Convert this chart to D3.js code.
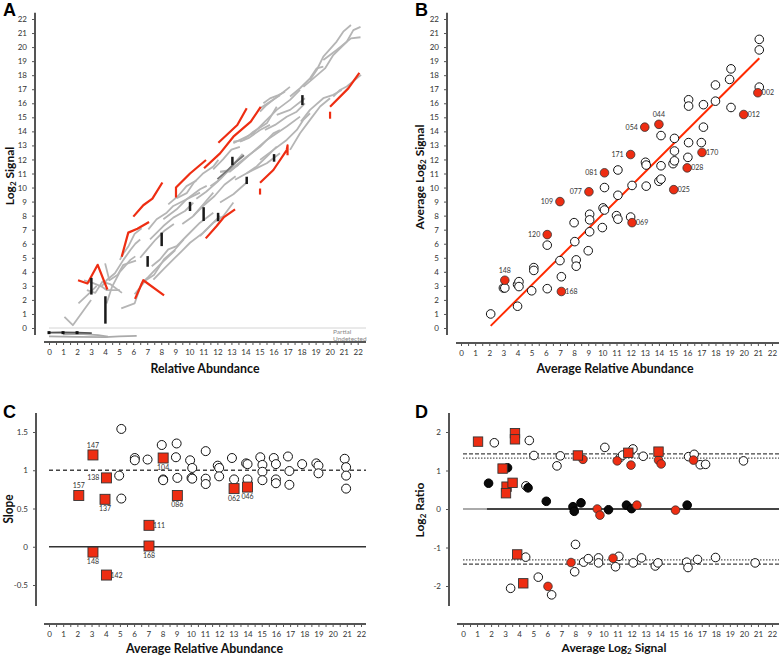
<!DOCTYPE html>
<html><head><meta charset="utf-8">
<script src="https://cdn.jsdelivr.net/npm/d3@7"></script>
<style>body{margin:0;background:#fff}svg{display:block}</style>
</head><body><svg id="c" width="779" height="656"></svg>
<script>
// ---------- Panel A data ----------
const greyTraces = [
 [[1.1,0.8],[1.7,0.2],[3.0,2.0]],
 [[2.1,1.75],[2.9,2.5],[3.4,3.0]],
 [[2.5,3.4],[3.15,3.2],[3.75,2.95],[4.1,2.7],[5.05,2.7]],
 [[2.7,2.7],[3.3,2.5],[3.8,3.3],[4.4,3.1],[5.2,2.5]],
 [[4.1,1.75],[4.5,2.95],[5.05,4.0],[5.8,4.85],[6.15,5.1]],
 [[3.75,2.95],[4.1,3.4],[4.7,3.9],[5.3,4.85],[5.8,5.55],[6.15,6.0],[6.5,6.3]],
 [[5.15,1.4],[6.1,1.75],[6.6,3.2],[7.1,3.65],[8.0,4.6],[9.0,5.55]],
 [[6.1,2.4],[6.9,3.4],[7.5,3.8],[8.2,4.9],[8.9,5.5],[9.6,6.3]],
 [[5.05,4.85],[5.3,5.3],[5.65,5.8],[6.1,6.7],[6.6,7.1]],
 [[4.0,4.6],[4.3,3.4],[4.9,3.8],[5.3,4.5],[6.2,4.8]],
 [[6.5,5.0],[7.0,5.6],[7.6,6.3],[8.2,6.9],[8.9,7.4]],
 [[7.08,7.02],[7.67,7.74],[8.39,8.21],[8.86,8.69],[9.81,9.17],[10.76,9.64]],
 [[7.2,6.31],[8.15,7.26],[8.86,7.86],[9.69,8.33],[10.29,8.93]],
 [[8.15,7.74],[9.1,8.45],[9.81,9.17],[10.76,9.88],[11.24,10.12]],
 [[7.32,4.4],[7.91,4.88],[8.5,5.6],[9.1,5.83],[9.81,6.55],[10.76,7.5],[11.71,8.21]],
 [[7.44,3.45],[8.15,4.17],[8.86,4.88],[9.46,5.48],[10.05,6.07],[11.0,6.79],[12.19,7.98]],
 [[10.76,6.55],[11.71,7.5],[12.43,7.98],[13.14,8.93]],
 [[12.19,8.93],[13.14,9.52],[14.09,10.36]],
 [[10.29,7.98],[11.0,8.81],[11.71,9.64]],
 [[9.5,7.4],[10.2,7.9],[11.0,8.7],[11.8,9.4],[12.5,10.2],[13.3,10.8]],
 [[10.5,9.2],[11.2,9.7],[12.0,10.4],[12.8,11.2],[13.5,11.6]],
 [[11.5,10.1],[12.2,10.6],[13.0,11.5],[13.8,12.4]],
 [[8.5,8.8],[9.2,9.4],[9.8,10.1],[10.5,10.5]],
 [[11.7,11.3],[12.4,12.0],[13.0,12.7],[13.6,12.9]],
 [[9.1,9.24],[9.81,9.6],[10.29,10.31],[11.0,11.02],[11.71,11.5],[12.07,11.97]],
 [[12.19,11.14],[12.9,11.14],[13.61,11.73],[14.56,12.56],[15.52,13.39],[16.23,13.87],[16.94,14.34],[17.89,15.05]],
 [[13.14,13.16],[14.09,13.63],[14.56,13.87],[15.28,14.58],[16.23,15.53],[17.18,16.24],[17.89,16.95]],
 [[17.18,16.48],[17.89,17.07],[18.6,17.78],[19.08,18.49],[19.55,18.61]],
 [[18.6,17.66],[19.08,18.37],[19.55,19.32],[20.5,20.39],[20.97,21.1],[21.52,21.57]],
 [[18.13,17.17],[18.84,17.77],[19.67,18.48],[20.26,19.43],[21.22,20.38],[21.69,21.21],[22.2,21.44]],
 [[19.55,19.08],[20.5,19.79],[21.52,20.62],[22.2,20.7]],
 [[16.23,15.17],[17.18,15.53],[18.24,16.36]],
 [[17.95,14.7],[18.6,15.53],[19.55,16.36],[20.26,16.6],[20.86,16.95]],
 [[17.18,12.68],[17.89,13.87],[18.6,14.82],[19.32,15.77],[20.03,16.36]],
 [[20.26,16.47],[20.74,16.95],[21.22,17.19],[22.24,18.02]],
 [[15.04,11.97],[15.99,12.68],[16.94,13.39],[17.66,14.1],[18.13,14.82],[18.6,15.29]],
 [[14.09,11.02],[14.8,11.38],[15.52,11.73],[15.99,12.09],[16.46,12.44]],
 [[13.26,10.55],[14.09,11.02],[14.8,11.5],[15.52,12.21],[16.23,12.92]],
 [[15.04,15.4],[15.51,15.88],[16.11,16.35],[16.58,16.7],[17.17,17.17]],
 [[15.28,16.0],[15.75,16.35],[16.35,16.58],[16.82,16.82]],
 [[13.61,13.27],[14.21,13.51],[15.04,14.1],[15.75,14.46]],
 [[15.39,14.1],[16.11,14.46],[16.94,15.04],[17.65,15.4],[18.24,15.99]],
 [[12.19,11.12],[12.9,11.25],[14.09,12.19],[15.04,12.9],[15.99,13.86],[16.46,14.09]],
 [[13.14,13.26],[13.85,13.38],[14.56,13.97],[15.52,14.57],[16.23,15.75]],
 [[15.04,15.64],[16.46,16.58]]
];
const darkTraces = [
 [[12.0,10.6],[12.7,11.2],[13.3,11.8],[13.9,12.3]]
];
const redTraces = [
 [[2.07,3.4],[2.74,3.17],[3.47,4.5],[4.16,2.74]],
 [[6.13,2.07],[6.72,3.4],[8.2,2.33]],
 [[5.18,5.07],[5.65,6.79],[6.3,7.07],[7.13,7.55]],
 [[6.01,7.93],[6.72,8.74],[7.37,9.21],[8.08,10.36]],
 [[11.17,6.38],[11.95,7.26],[12.47,7.9],[13.26,8.45]],
 [[9.05,9.3],[9.05,10.0],[10.05,11.0],[11.19,11.96]],
 [[12.07,13.19],[13.42,14.45],[14.09,15.64]],
 [[11.05,11.37],[12.19,12.43],[13.14,13.62],[14.38,14.69],[15.09,15.75]],
 [[15.04,10.34],[15.99,11.25],[16.94,12.67],[17.0,13.0],[17.0,12.3]],
 [[15.04,9.93],[15.04,9.5]],
 [[20.03,15.75],[21.33,17.06],[22.12,18.17]],
 [[20.03,15.4],[20.03,14.9]]
];
const barX  = [3.02,4.02,7.03,8.03,10.05,11.02,12.05,13.07,14.09,16.04,18.06];
const barLo = [2.38,0.31,4.36,5.83,8.33,7.62,7.6,11.6,10.25,11.84,15.87];
const barHi = [3.57,2.26,5.12,6.79,8.98,8.6,8.2,12.19,10.77,12.38,16.58];
const partialTrace = [[0,-0.33],[1,-0.31],[2,-0.33],[3.05,-0.36]];
const partialDots = [0,1,2];
const undetectedTrace = [[0,-0.6],[2,-0.63],[4,-0.65],[5,-0.6],[6.25,-0.56]];
const undetectedTrace2 = [[1,-0.45],[2.2,-0.42],[3.5,-0.5],[4.2,-0.62]];

// ---------- Panel B data ----------
const bOpenX = [2.1,3.0,3.1,4.0,4.1,4.1,4.0,5.0,5.15,5.15,6.1,6.1,7.0,7.1,8.0,8.05,8.15,8.15,9.0,9.1,9.1,9.1,10.0,10.05,10.15,10.15,11.0,11.1,11.1,12.0,12.1,13.1,14.0,14.15,11.1,13.05,13.1,14.15,15.0,15.1,15.1,15.1,14.15,16.05,16.1,16.1,16.1,17.0,17.15,17.15,18.0,18.0,19.0,19.1,19.1,21.1,21.1,21.1];
const bOpenY = [1.0,2.85,2.85,3.1,3.3,2.95,1.55,2.65,4.3,4.1,5.9,2.8,4.8,3.65,7.5,6.15,4.85,4.4,5.5,8.1,7.7,6.85,7.15,8.55,8.4,10.0,8.0,7.75,9.45,7.9,10.15,10.1,10.45,10.6,11.25,11.8,11.6,11.55,11.7,11.9,12.6,13.5,13.7,12.15,13.2,16.25,15.8,13.2,14.3,15.9,17.3,16.15,17.7,18.45,15.7,20.55,19.8,17.15];
const bRedX = [3.1,6.1,7.0,7.1,9.05,10.15,12.0,12.1,13.0,14.0,15.05,16.0,17.05,20.0,21.0];
const bRedY = [3.4,6.65,9.0,2.6,9.7,11.05,12.35,7.5,14.3,14.5,9.85,11.4,12.5,15.2,16.75];
const bRedLabel = ["148","120","109","168","077","081","171","069","054","044","025","028","170","012","002"];
const bRedPos = ["above","left","left","right","left","left","left","right","left","above","right","right","right","right","right"];
const bFitX = [2.1,21.1];
const bFitY = [0.15,19.2];

// ---------- Panel C data ----------
const cOpenX = [5.1,4.95,5.1,6.05,6.05,6.95,7.95,8.05,8.05,9.0,8.95,9.05,9.95,10.1,10.05,10.1,11.05,11.05,11.05,11.9,12.0,12.0,12.9,13.05,13.9,14.0,14.0,14.9,15.05,15.05,15.05,15.85,16.0,16.0,16.0,16.85,16.95,16.95,17.85,18.85,19.0,19.0,20.85,20.95,20.95,20.95];
const cOpenY = [1.54,0.93,0.63,1.16,1.13,1.14,1.33,0.88,0.87,1.35,1.17,0.9,1.13,1.03,0.9,0.89,1.25,0.89,0.82,1.06,1.03,0.92,1.16,0.88,1.09,1.08,0.88,1.17,1.07,0.98,0.87,1.16,1.08,0.88,0.83,1.18,0.99,0.81,1.08,1.09,1.06,0.96,1.15,1.04,0.93,0.76];
const cRedX = [2.1,3.1,4.05,3.95,3.1,4.05,7.05,7.05,8.05,9.05,13.05,14.0];
const cRedY = [0.67,1.2,0.9,0.62,-0.07,-0.37,0.28,0.01,1.16,0.67,0.76,0.78];
const cRedLabel = ["157","147","138","137","148","142","111","168","104","086","062","046"];
const cRedPos = ["above","above","left","below","below","right","right","below","below","below","below","below"];
const cRefSolid = 0, cRefDashed = 1;

// ---------- Panel D data ----------
const dSquareX = [1.07,3.7,3.7,2.82,3.1,3.53,3.06,8.18,11.77,13.92,3.86,4.29];
const dSquareY = [1.75,1.97,1.81,1.05,0.58,0.68,0.41,1.39,1.46,1.49,-1.18,-1.93];
const dRedX = [8.54,10.98,11.96,13.92,14.11,16.41,9.56,9.75,12.38,15.13,7.69,10.68,6.05];
const dRedY = [1.29,1.25,1.14,1.27,1.17,1.27,0,-0.16,0.1,-0.03,-1.39,-1.28,-2.01];
const dBlackX = [1.82,3.17,4.63,5.93,7.83,7.92,8.4,10.36,11.64,12.0,15.96];
const dBlackY = [0.67,1.07,0.55,0.2,0.06,-0.06,0.16,-0.02,0.1,0.01,0.1];
const dOpenX = [2.23,4.72,5.05,6.93,6.69,4.48,10.1,11.2,11.36,12.1,12.83,16.06,16.46,16.89,17.27,19.97,8.01,4.46,8.59,8.92,9.65,9.65,10.86,11.1,12.12,12.71,13.69,13.88,15.92,16.02,16.7,17.98,20.8,7.95,5.36,3.39,6.31];
const dOpenY = [1.72,1.78,1.39,1.38,1.12,0.6,1.6,1.34,1.40,1.56,1.37,1.36,1.42,1.15,1.16,1.25,-0.92,-1.25,-1.38,-1.29,-1.27,-1.40,-1.5,-1.23,-1.40,-1.27,-1.48,-1.40,-1.38,-1.52,-1.31,-1.26,-1.40,-1.63,-1.77,-2.06,-2.23];
const dDashed = [1.43,-1.43];
const dDotted = [1.32,-1.32];

const RED = "#ee2d12";
const FONT = "Lato, 'Liberation Sans', sans-serif";
const svg = d3.select('#c');

function axisX(scale, yPos, xStart, xEnd) {
  const g = svg.append('g');
  g.append('line').attr('x1', xStart).attr('x2', xEnd).attr('y1', yPos).attr('y2', yPos)
    .attr('stroke', '#555').attr('stroke-width', 2);
  const ax = d3.axisBottom(scale).tickValues(d3.range(0, 22.01, 0.5)).tickSize(3).tickPadding(4)
    .tickFormat(d => Number.isInteger(d) ? String(d) : '');
  const ga = g.append('g').attr('transform', `translate(0,${yPos})`).call(ax);
  ga.select('.domain').remove();
  ga.selectAll('line').attr('stroke', '#555');
  ga.selectAll('text').attr('font-size', 8).attr('fill', '#333').attr('font-family', FONT);
}
function axisY(scale, xPos, yTop, yBot, ticks) {
  const g = svg.append('g');
  g.append('line').attr('x1', xPos).attr('x2', xPos).attr('y1', yTop).attr('y2', yBot)
    .attr('stroke', '#555').attr('stroke-width', 2);
  const ay = d3.axisLeft(scale).tickValues(ticks).tickSize(3).tickPadding(5).tickFormat(d => String(d));
  const ga = g.append('g').attr('transform', `translate(${xPos},0)`).call(ay);
  ga.select('.domain').remove();
  ga.selectAll('line').attr('stroke', '#555');
  ga.selectAll('text').attr('font-size', 8).attr('fill', '#333').attr('font-family', FONT);
}
function title(x, y, parts, len, rot) {
  const hasSub = parts.length > 1;
  const t = svg.append('text').attr('font-family', FONT).attr('font-weight', 'bold')
    .attr('font-size', hasSub ? 12 : 13).attr('text-anchor', 'middle').attr('fill', '#111')
    .attr('transform', `translate(${x},${y})` + (rot ? ' rotate(-90)' : ''));
  parts.forEach(p => {
    const s = t.append('tspan').text(p.t);
    if (p.sub) s.attr('font-size', 8).attr('dy', 2);
    if (p.back) s.attr('dy', -2);
  });
  if (len && !hasSub) t.attr('textLength', len).attr('lengthAdjust', 'spacingAndGlyphs');
}
function letter(x, y, s) {
  svg.append('text').attr('x', x).attr('y', y).text(s).attr('font-family', "'Liberation Sans', Arial, sans-serif")
    .attr('font-weight', 'bold').attr('font-size', 18).attr('fill', '#000');
}
function ptLabels(xs, ys, labels, pos, sx, sy) {
  labels.forEach((l, i) => {
    const X = sx(xs[i]), Y = sy(ys[i]);
    let tx = X, ty = Y + 2.5, anc = 'middle';
    if (pos[i] === 'left') { tx = X - 7; anc = 'end'; }
    if (pos[i] === 'right') { tx = X + 4; anc = 'start'; }
    if (pos[i] === 'above') { ty = Y - 7; }
    if (pos[i] === 'below') { ty = Y + 12; }
    svg.append('text').attr('x', tx).attr('y', ty).attr('text-anchor', anc).text(l)
      .attr('font-size', 7).attr('fill', '#333').attr('font-family', FONT);
  });
}

// ================= Panel A =================
const ax = d3.scaleLinear().domain([0, 22]).range([49, 357.7]);
const ay = d3.scaleLinear().domain([0, 22]).range([328, 19]);
const lineA = d3.line().x(d => ax(d[0])).y(d => ay(d[1]));
svg.append('line').attr('x1', ax(0)).attr('x2', 366).attr('y1', ay(0)).attr('y2', ay(0))
  .attr('stroke', '#d4d4d4').attr('stroke-width', 1);
svg.append('text').attr('x', 333).attr('y', 334).text('Partial').attr('font-size', 6.5).attr('fill', '#888').attr('font-family', FONT);
svg.append('text').attr('x', 333).attr('y', 340.5).text('Undetected').attr('font-size', 6.5).attr('fill', '#888').attr('font-family', FONT);
svg.append('g').selectAll('path').data([undetectedTrace, undetectedTrace2]).join('path').attr('d', lineA)
  .attr('fill', 'none').attr('stroke', '#aaa').attr('stroke-width', 1.8);
svg.append('path').attr('d', lineA(partialTrace)).attr('fill', 'none').attr('stroke', '#555').attr('stroke-width', 1.8);
svg.append('g').selectAll('rect').data(partialDots).join('rect')
  .attr('x', d => ax(d) - 1.5).attr('y', ay(-0.33) - 1.5).attr('width', 3).attr('height', 3).attr('fill', '#111');
svg.append('g').selectAll('path').data(greyTraces).join('path').attr('d', lineA)
  .attr('fill', 'none').attr('stroke', '#b5b5b5').attr('stroke-width', 1.8).attr('stroke-linejoin', 'round');
svg.append('g').selectAll('path').data(darkTraces).join('path').attr('d', lineA)
  .attr('fill', 'none').attr('stroke', '#777').attr('stroke-width', 1.8);
svg.append('g').selectAll('path').data(redTraces).join('path').attr('d', lineA)
  .attr('fill', 'none').attr('stroke', RED).attr('stroke-width', 2.2).attr('stroke-linejoin', 'round');
svg.append('g').selectAll('line').data(barX).join('line')
  .attr('x1', d => ax(d)).attr('x2', d => ax(d)).attr('y1', (d, i) => ay(barLo[i])).attr('y2', (d, i) => ay(barHi[i]))
  .attr('stroke', '#1a1a1a').attr('stroke-width', 2.5);
axisY(ay, 35, 12.7, 335, d3.range(0, 23));
axisX(ax, 342, 44, 366);
title(205, 372.5, [{t: 'Relative Abundance'}], 109, false);
title(13.5, 176, [{t: 'Log'}, {t: '2', sub: true}, {t: ' Signal', back: true}], 64, true);
letter(3, 16, 'A');

// ================= Panel B =================
const bx = d3.scaleLinear().domain([0, 22]).range([461, 772]);
const by = d3.scaleLinear().domain([0, 22]).range([328, 19]);
svg.append('line').attr('x1', bx(bFitX[0])).attr('y1', by(bFitY[0])).attr('x2', bx(bFitX[1])).attr('y2', by(bFitY[1]))
  .attr('stroke', '#ff2a00').attr('stroke-width', 2);
svg.append('g').selectAll('circle').data(bOpenX).join('circle')
  .attr('cx', d => bx(d)).attr('cy', (d, i) => by(bOpenY[i])).attr('r', 4.3)
  .attr('fill', '#fff').attr('stroke', '#111').attr('stroke-width', 1);
svg.append('g').selectAll('circle').data(bRedX).join('circle')
  .attr('cx', d => bx(d)).attr('cy', (d, i) => by(bRedY[i])).attr('r', 4.3)
  .attr('fill', RED).attr('stroke', '#333').attr('stroke-width', 0.8);
ptLabels(bRedX, bRedY, bRedLabel, bRedPos, bx, by);
axisY(by, 447, 12.7, 335, d3.range(0, 23));
axisX(bx, 343, 456, 779);
title(615, 372.5, [{t: 'Average Relative Abundance'}], 157, false);
title(423.5, 177, [{t: 'Average Log'}, {t: '2', sub: true}, {t: ' Signal', back: true}], 108, true);
letter(415, 16, 'B');

// ================= Panel C =================
const cx = d3.scaleLinear().domain([0, 22]).range([49, 361]);
const cy = d3.scaleLinear().domain([-0.5, 1.5]).range([585, 432]);
svg.append('line').attr('x1', cx(0)).attr('x2', 366).attr('y1', cy(cRefDashed)).attr('y2', cy(cRefDashed))
  .attr('stroke', '#444').attr('stroke-width', 1.5).attr('stroke-dasharray', '4,3');
svg.append('line').attr('x1', cx(0)).attr('x2', 366).attr('y1', cy(cRefSolid)).attr('y2', cy(cRefSolid))
  .attr('stroke', '#333').attr('stroke-width', 1.6);
svg.append('g').selectAll('circle').data(cOpenX).join('circle')
  .attr('cx', d => cx(d)).attr('cy', (d, i) => cy(cOpenY[i])).attr('r', 4.5)
  .attr('fill', '#fff').attr('stroke', '#111').attr('stroke-width', 1);
svg.append('g').selectAll('rect').data(cRedX).join('rect')
  .attr('x', d => cx(d) - 5).attr('y', (d, i) => cy(cRedY[i]) - 5).attr('width', 10).attr('height', 10)
  .attr('fill', RED).attr('stroke', '#333').attr('stroke-width', 0.9);
ptLabels(cRedX, cRedY, cRedLabel, cRedPos, cx, cy);
axisY(cy, 36, 413, 606, [-0.5, 0, 0.5, 1, 1.5]);
axisX(cx, 624, 44, 366);
title(204.5, 652.5, [{t: 'Average Relative Abundance'}], 157, false);
title(12.5, 509, [{t: 'Slope'}], 29, true);
letter(3, 418, 'C');

// ================= Panel D =================
const dx = d3.scaleLinear().domain([0, 22]).range([463, 772]);
const dy = d3.scaleLinear().domain([-2, 2]).range([586, 432]);
dDashed.forEach(v => svg.append('line').attr('x1', dx(0)).attr('x2', 779).attr('y1', dy(v)).attr('y2', dy(v))
  .attr('stroke', '#444').attr('stroke-width', 1.3).attr('stroke-dasharray', '4,2'));
dDotted.forEach(v => svg.append('line').attr('x1', dx(0)).attr('x2', 779).attr('y1', dy(v)).attr('y2', dy(v))
  .attr('stroke', '#555').attr('stroke-width', 1.2).attr('stroke-dasharray', '1.5,1.5'));
svg.append('line').attr('x1', dx(0)).attr('x2', dx(1.7)).attr('y1', dy(0)).attr('y2', dy(0))
  .attr('stroke', '#aaa').attr('stroke-width', 2);
svg.append('line').attr('x1', dx(1.7)).attr('x2', 779).attr('y1', dy(0)).attr('y2', dy(0))
  .attr('stroke', '#444').attr('stroke-width', 2);
svg.append('g').selectAll('circle').data(dOpenX).join('circle')
  .attr('cx', d => dx(d)).attr('cy', (d, i) => dy(dOpenY[i])).attr('r', 4.3)
  .attr('fill', '#fff').attr('stroke', '#111').attr('stroke-width', 1);
svg.append('g').selectAll('circle').data(dBlackX).join('circle')
  .attr('cx', d => dx(d)).attr('cy', (d, i) => dy(dBlackY[i])).attr('r', 4.3)
  .attr('fill', '#0a0a0a').attr('stroke', '#000').attr('stroke-width', 1);
svg.append('g').selectAll('circle').data(dRedX).join('circle')
  .attr('cx', d => dx(d)).attr('cy', (d, i) => dy(dRedY[i])).attr('r', 4.3)
  .attr('fill', RED).attr('stroke', '#333').attr('stroke-width', 0.8);
svg.append('g').selectAll('rect').data(dSquareX).join('rect')
  .attr('x', d => dx(d) - 4.7).attr('y', (d, i) => dy(dSquareY[i]) - 4.7).attr('width', 9.4).attr('height', 9.4)
  .attr('fill', RED).attr('stroke', '#333').attr('stroke-width', 0.9);
axisY(dy, 449, 413, 606, [-2, -1, 0, 1, 2]);
axisX(dx, 624, 457, 779);
title(614, 652, [{t: 'Average Log'}, {t: '2', sub: true}, {t: ' Signal', back: true}], 107, false);
title(423.5, 510, [{t: 'Log'}, {t: '2', sub: true}, {t: ' Ratio', back: true}], 56, true);
letter(415, 418, 'D');
</script></body></html>
